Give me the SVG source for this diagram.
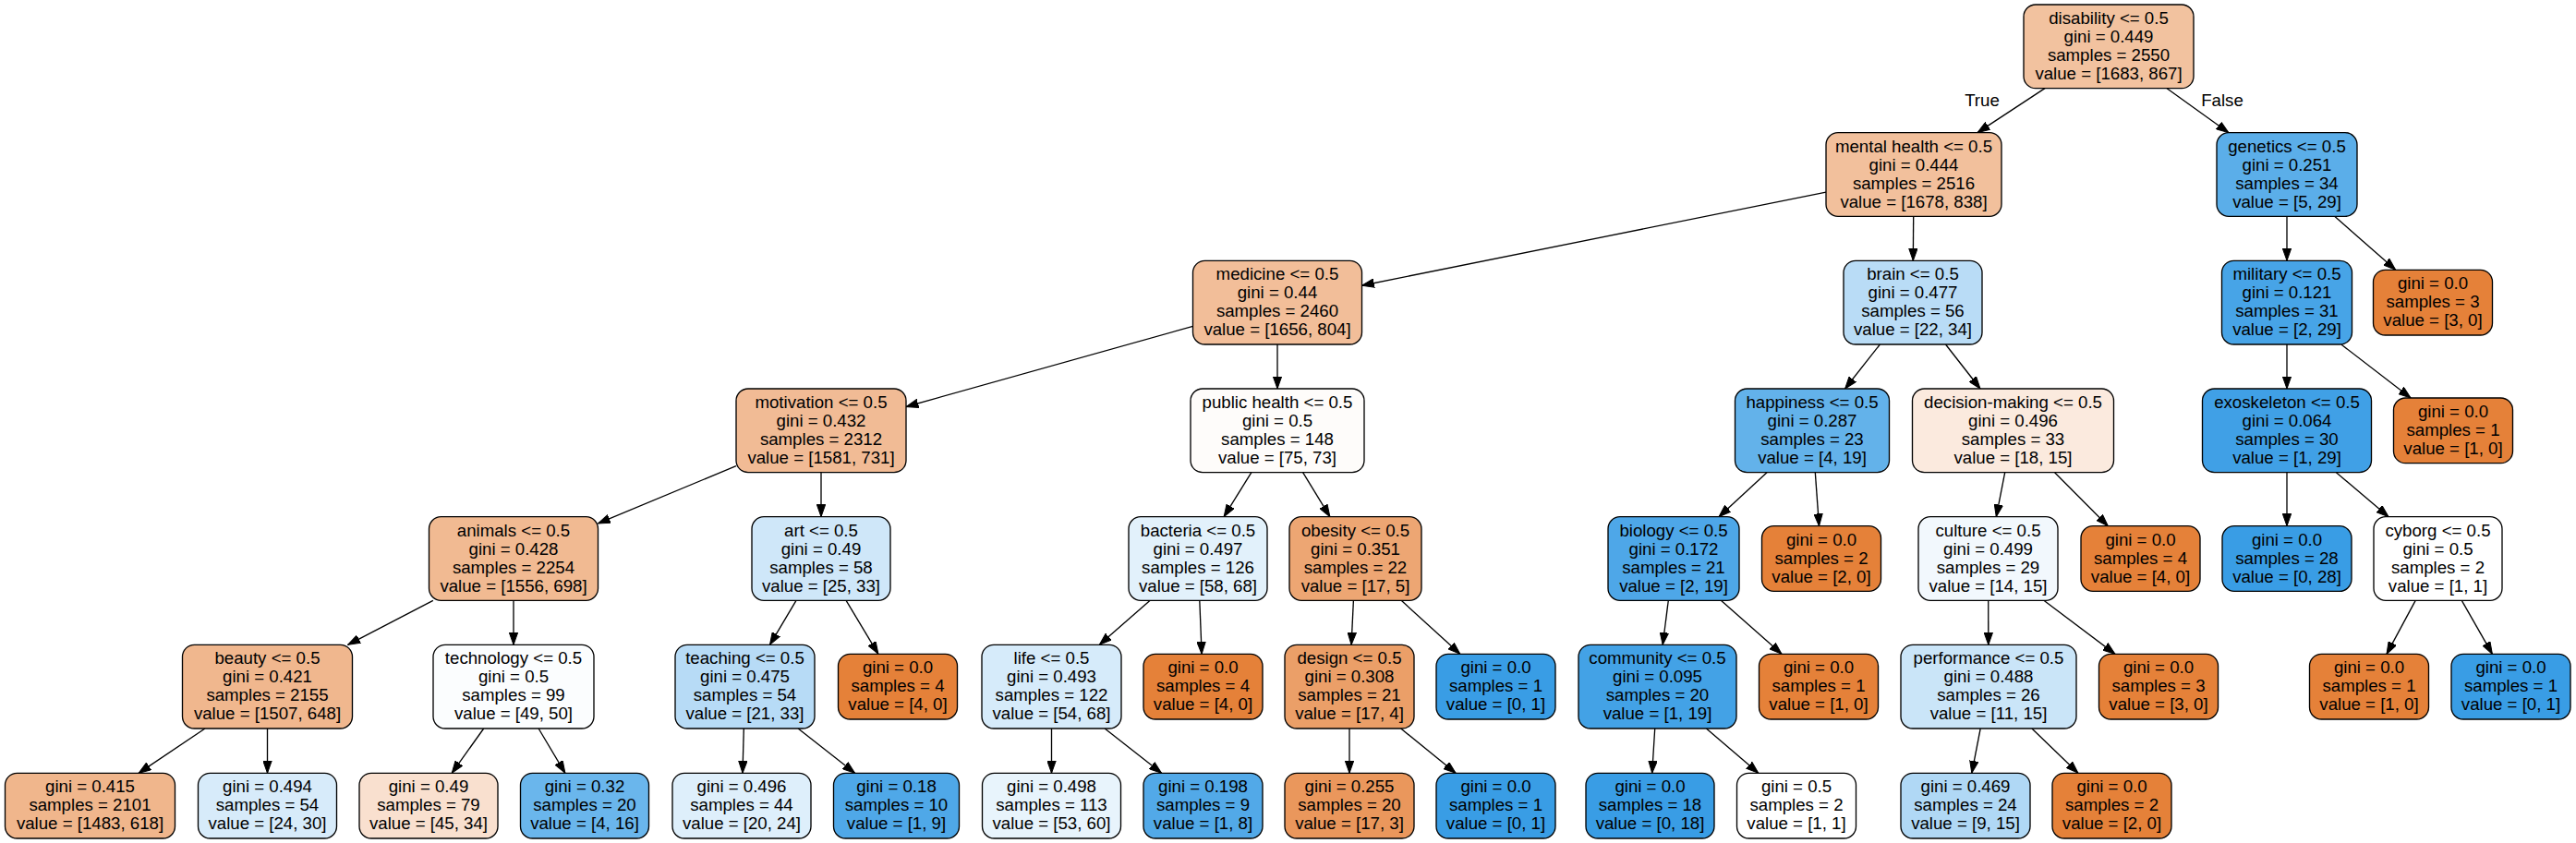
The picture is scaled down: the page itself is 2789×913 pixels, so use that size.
<svg xmlns="http://www.w3.org/2000/svg" width="2789" height="913" viewBox="0 0 2789 913">
<style>
.node rect{stroke:#000;stroke-width:1.33}
text{font-family:"Liberation Sans",Arial,Helvetica,sans-serif;font-size:18.67px;text-anchor:middle;fill:#000}
.edges line{stroke:#000;stroke-width:1.33;marker-end:url(#arr)}
.or{fill:#e58139}.bl{fill:#399de5}
</style>
<defs>
<marker id="arr" viewBox="0 -5 14 10" markerWidth="14" markerHeight="10" refX="13.3" refY="0" orient="auto" markerUnits="userSpaceOnUse">
<path d="M0,-4.7 L13.3,0 L0,4.7 Z" fill="#000" stroke="#000" stroke-width="1"/>
</marker>
</defs>
<rect width="2789" height="913" fill="#fff"/>
<g id="edges" class="edges">
<line x1="2214" y1="95.67" x2="2141" y2="143.67"/>
<line x1="2346.1" y1="95.67" x2="2412.9" y2="143.67"/>
<line x1="1977" y1="208.1" x2="1474.5" y2="309.25"/>
<line x1="2071.7" y1="234.33" x2="2071.3" y2="282.33"/>
<line x1="2476" y1="234.33" x2="2476" y2="282.33"/>
<line x1="2527.65" y1="234.33" x2="2593.7" y2="292.33"/>
<line x1="1291.5" y1="353.36" x2="981" y2="440.5"/>
<line x1="1383" y1="373" x2="1383" y2="421"/>
<line x1="2035.4" y1="373" x2="1997.6" y2="421"/>
<line x1="2106.5" y1="373" x2="2144" y2="421"/>
<line x1="2476" y1="373" x2="2476" y2="421"/>
<line x1="2534.8" y1="373" x2="2610.1" y2="431"/>
<line x1="797" y1="504.64" x2="647.5" y2="566.9"/>
<line x1="889" y1="511.67" x2="889" y2="559.67"/>
<line x1="1354.9" y1="511.67" x2="1325.1" y2="559.67"/>
<line x1="1410.6" y1="511.67" x2="1439.9" y2="559.67"/>
<line x1="1913" y1="511.67" x2="1861" y2="559.67"/>
<line x1="1965.3" y1="511.67" x2="1969.5" y2="569.67"/>
<line x1="2170.7" y1="511.67" x2="2161.3" y2="559.67"/>
<line x1="2224.6" y1="511.67" x2="2282.3" y2="569.67"/>
<line x1="2476" y1="511.67" x2="2476" y2="569.67"/>
<line x1="2529.4" y1="511.67" x2="2586.1" y2="559.67"/>
<line x1="468.9" y1="650.33" x2="376.6" y2="698.33"/>
<line x1="556" y1="650.33" x2="556" y2="698.33"/>
<line x1="862" y1="650.33" x2="833.5" y2="698.33"/>
<line x1="916.1" y1="650.33" x2="950.9" y2="708.33"/>
<line x1="1245.2" y1="650.33" x2="1190.3" y2="698.33"/>
<line x1="1298.8" y1="650.33" x2="1301.1" y2="708.33"/>
<line x1="1465.4" y1="650.33" x2="1463.1" y2="698.33"/>
<line x1="1517.2" y1="650.33" x2="1580.8" y2="708.33"/>
<line x1="1806.3" y1="650.33" x2="1800.2" y2="698.33"/>
<line x1="1863.3" y1="650.33" x2="1929" y2="708.33"/>
<line x1="2152.7" y1="650.33" x2="2152.8" y2="698.33"/>
<line x1="2212.8" y1="650.33" x2="2290" y2="708.33"/>
<line x1="2615.2" y1="650.33" x2="2584" y2="708.33"/>
<line x1="2665.3" y1="650.33" x2="2698.4" y2="708.33"/>
<line x1="222" y1="789" x2="150.1" y2="837.33"/>
<line x1="289.5" y1="789" x2="289.5" y2="837.33"/>
<line x1="523.7" y1="789" x2="489.2" y2="837.33"/>
<line x1="583.1" y1="789" x2="611.9" y2="837.33"/>
<line x1="805.3" y1="789" x2="804" y2="837.33"/>
<line x1="864.1" y1="789" x2="925.6" y2="837.33"/>
<line x1="1138.5" y1="789" x2="1138.5" y2="837.33"/>
<line x1="1196.1" y1="789" x2="1257.6" y2="837.33"/>
<line x1="1461" y1="789" x2="1461" y2="837.33"/>
<line x1="1516.7" y1="789" x2="1576.1" y2="837.33"/>
<line x1="1791.7" y1="789" x2="1788.7" y2="837.33"/>
<line x1="1847.4" y1="789" x2="1903.8" y2="837.33"/>
<line x1="2144.2" y1="789" x2="2134.8" y2="837.33"/>
<line x1="2199.9" y1="789" x2="2249.9" y2="837.33"/>
<text x="2146" y="115">True</text>
<text x="2406" y="115">False</text>
</g>
<g id="n0" class="node"><rect x="2191" y="5" width="184" height="90.67" rx="13" fill="#f2c29f"/><text><tspan x="2283" y="26">disability &lt;= 0.5</tspan><tspan x="2283" y="46">gini = 0.449</tspan><tspan x="2283" y="66">samples = 2550</tspan><tspan x="2283" y="86">value = [1683, 867]</tspan></text></g>
<g id="n1" class="node"><rect x="1977" y="143.67" width="190" height="90.67" rx="13" fill="#f2c09c"/><text><tspan x="2072" y="164.67">mental health &lt;= 0.5</tspan><tspan x="2072" y="184.67">gini = 0.444</tspan><tspan x="2072" y="204.67">samples = 2516</tspan><tspan x="2072" y="224.67">value = [1678, 838]</tspan></text></g>
<g id="n2" class="node"><rect x="2400" y="143.67" width="152" height="90.67" rx="13" fill="#5baee9"/><text><tspan x="2476" y="164.67">genetics &lt;= 0.5</tspan><tspan x="2476" y="184.67">gini = 0.251</tspan><tspan x="2476" y="204.67">samples = 34</tspan><tspan x="2476" y="224.67">value = [5, 29]</tspan></text></g>
<g id="n3" class="node"><rect x="1291.5" y="282.33" width="183" height="90.67" rx="13" fill="#f2be99"/><text><tspan x="1383" y="303.33">medicine &lt;= 0.5</tspan><tspan x="1383" y="323.33">gini = 0.44</tspan><tspan x="1383" y="343.33">samples = 2460</tspan><tspan x="1383" y="363.33">value = [1656, 804]</tspan></text></g>
<g id="n4" class="node"><rect x="1996" y="282.33" width="150" height="90.67" rx="13" fill="#b9dcf6"/><text><tspan x="2071" y="303.33">brain &lt;= 0.5</tspan><tspan x="2071" y="323.33">gini = 0.477</tspan><tspan x="2071" y="343.33">samples = 56</tspan><tspan x="2071" y="363.33">value = [22, 34]</tspan></text></g>
<g id="n5" class="node"><rect x="2405.5" y="282.33" width="141" height="90.67" rx="13" fill="#47a4e7"/><text><tspan x="2476" y="303.33">military &lt;= 0.5</tspan><tspan x="2476" y="323.33">gini = 0.121</tspan><tspan x="2476" y="343.33">samples = 31</tspan><tspan x="2476" y="363.33">value = [2, 29]</tspan></text></g>
<g id="n6" class="node"><rect x="2569.5" y="292.33" width="129" height="70.67" rx="13" class="or"/><text><tspan x="2634" y="313.33">gini = 0.0</tspan><tspan x="2634" y="333.33">samples = 3</tspan><tspan x="2634" y="353.33">value = [3, 0]</tspan></text></g>
<g id="n7" class="node"><rect x="797" y="421" width="184" height="90.67" rx="13" fill="#f1bb95"/><text><tspan x="889" y="442">motivation &lt;= 0.5</tspan><tspan x="889" y="462">gini = 0.432</tspan><tspan x="889" y="482">samples = 2312</tspan><tspan x="889" y="502">value = [1581, 731]</tspan></text></g>
<g id="n8" class="node"><rect x="1289" y="421" width="188" height="90.67" rx="13" fill="#fefcfa"/><text><tspan x="1383" y="442">public health &lt;= 0.5</tspan><tspan x="1383" y="462">gini = 0.5</tspan><tspan x="1383" y="482">samples = 148</tspan><tspan x="1383" y="502">value = [75, 73]</tspan></text></g>
<g id="n9" class="node"><rect x="1878.5" y="421" width="167" height="90.67" rx="13" fill="#63b2ea"/><text><tspan x="1962" y="442">happiness &lt;= 0.5</tspan><tspan x="1962" y="462">gini = 0.287</tspan><tspan x="1962" y="482">samples = 23</tspan><tspan x="1962" y="502">value = [4, 19]</tspan></text></g>
<g id="n10" class="node"><rect x="2070.5" y="421" width="218" height="90.67" rx="13" fill="#fbeade"/><text><tspan x="2179.5" y="442">decision-making &lt;= 0.5</tspan><tspan x="2179.5" y="462">gini = 0.496</tspan><tspan x="2179.5" y="482">samples = 33</tspan><tspan x="2179.5" y="502">value = [18, 15]</tspan></text></g>
<g id="n11" class="node"><rect x="2384.5" y="421" width="183" height="90.67" rx="13" fill="#40a0e6"/><text><tspan x="2476" y="442">exoskeleton &lt;= 0.5</tspan><tspan x="2476" y="462">gini = 0.064</tspan><tspan x="2476" y="482">samples = 30</tspan><tspan x="2476" y="502">value = [1, 29]</tspan></text></g>
<g id="n12" class="node"><rect x="2591.5" y="431" width="129" height="70.67" rx="13" class="or"/><text><tspan x="2656" y="452">gini = 0.0</tspan><tspan x="2656" y="472">samples = 1</tspan><tspan x="2656" y="492">value = [1, 0]</tspan></text></g>
<g id="n13" class="node"><rect x="464.5" y="559.67" width="183" height="90.67" rx="13" fill="#f1ba92"/><text><tspan x="556" y="580.67">animals &lt;= 0.5</tspan><tspan x="556" y="600.67">gini = 0.428</tspan><tspan x="556" y="620.67">samples = 2254</tspan><tspan x="556" y="640.67">value = [1556, 698]</tspan></text></g>
<g id="n14" class="node"><rect x="814" y="559.67" width="150" height="90.67" rx="13" fill="#cfe7f9"/><text><tspan x="889" y="580.67">art &lt;= 0.5</tspan><tspan x="889" y="600.67">gini = 0.49</tspan><tspan x="889" y="620.67">samples = 58</tspan><tspan x="889" y="640.67">value = [25, 33]</tspan></text></g>
<g id="n15" class="node"><rect x="1222" y="559.67" width="150" height="90.67" rx="13" fill="#e2f1fb"/><text><tspan x="1297" y="580.67">bacteria &lt;= 0.5</tspan><tspan x="1297" y="600.67">gini = 0.497</tspan><tspan x="1297" y="620.67">samples = 126</tspan><tspan x="1297" y="640.67">value = [58, 68]</tspan></text></g>
<g id="n16" class="node"><rect x="1396" y="559.67" width="143" height="90.67" rx="13" fill="#eda673"/><text><tspan x="1467.5" y="580.67">obesity &lt;= 0.5</tspan><tspan x="1467.5" y="600.67">gini = 0.351</tspan><tspan x="1467.5" y="620.67">samples = 22</tspan><tspan x="1467.5" y="640.67">value = [17, 5]</tspan></text></g>
<g id="n17" class="node"><rect x="1741" y="559.67" width="142" height="90.67" rx="13" fill="#4ea7e8"/><text><tspan x="1812" y="580.67">biology &lt;= 0.5</tspan><tspan x="1812" y="600.67">gini = 0.172</tspan><tspan x="1812" y="620.67">samples = 21</tspan><tspan x="1812" y="640.67">value = [2, 19]</tspan></text></g>
<g id="n18" class="node"><rect x="1907.5" y="569.67" width="129" height="70.67" rx="13" class="or"/><text><tspan x="1972" y="590.67">gini = 0.0</tspan><tspan x="1972" y="610.67">samples = 2</tspan><tspan x="1972" y="630.67">value = [2, 0]</tspan></text></g>
<g id="n19" class="node"><rect x="2077" y="559.67" width="151" height="90.67" rx="13" fill="#f2f8fd"/><text><tspan x="2152.5" y="580.67">culture &lt;= 0.5</tspan><tspan x="2152.5" y="600.67">gini = 0.499</tspan><tspan x="2152.5" y="620.67">samples = 29</tspan><tspan x="2152.5" y="640.67">value = [14, 15]</tspan></text></g>
<g id="n20" class="node"><rect x="2253" y="569.67" width="129" height="70.67" rx="13" class="or"/><text><tspan x="2317.5" y="590.67">gini = 0.0</tspan><tspan x="2317.5" y="610.67">samples = 4</tspan><tspan x="2317.5" y="630.67">value = [4, 0]</tspan></text></g>
<g id="n21" class="node"><rect x="2406" y="569.67" width="140" height="70.67" rx="13" class="bl"/><text><tspan x="2476" y="590.67">gini = 0.0</tspan><tspan x="2476" y="610.67">samples = 28</tspan><tspan x="2476" y="630.67">value = [0, 28]</tspan></text></g>
<g id="n22" class="node"><rect x="2570" y="559.67" width="139" height="90.67" rx="13" fill="#ffffff"/><text><tspan x="2639.5" y="580.67">cyborg &lt;= 0.5</tspan><tspan x="2639.5" y="600.67">gini = 0.5</tspan><tspan x="2639.5" y="620.67">samples = 2</tspan><tspan x="2639.5" y="640.67">value = [1, 1]</tspan></text></g>
<g id="n23" class="node"><rect x="197.5" y="698.33" width="184" height="90.67" rx="13" fill="#f0b78e"/><text><tspan x="289.5" y="719.33">beauty &lt;= 0.5</tspan><tspan x="289.5" y="739.33">gini = 0.421</tspan><tspan x="289.5" y="759.33">samples = 2155</tspan><tspan x="289.5" y="779.33">value = [1507, 648]</tspan></text></g>
<g id="n24" class="node"><rect x="469" y="698.33" width="174" height="90.67" rx="13" fill="#fbfdfe"/><text><tspan x="556" y="719.33">technology &lt;= 0.5</tspan><tspan x="556" y="739.33">gini = 0.5</tspan><tspan x="556" y="759.33">samples = 99</tspan><tspan x="556" y="779.33">value = [49, 50]</tspan></text></g>
<g id="n25" class="node"><rect x="731" y="698.33" width="151" height="90.67" rx="13" fill="#b7dbf6"/><text><tspan x="806.5" y="719.33">teaching &lt;= 0.5</tspan><tspan x="806.5" y="739.33">gini = 0.475</tspan><tspan x="806.5" y="759.33">samples = 54</tspan><tspan x="806.5" y="779.33">value = [21, 33]</tspan></text></g>
<g id="n26" class="node"><rect x="907.5" y="708.33" width="129" height="70.67" rx="13" class="or"/><text><tspan x="972" y="729.33">gini = 0.0</tspan><tspan x="972" y="749.33">samples = 4</tspan><tspan x="972" y="769.33">value = [4, 0]</tspan></text></g>
<g id="n27" class="node"><rect x="1063" y="698.33" width="151" height="90.67" rx="13" fill="#d6ebfa"/><text><tspan x="1138.5" y="719.33">life &lt;= 0.5</tspan><tspan x="1138.5" y="739.33">gini = 0.493</tspan><tspan x="1138.5" y="759.33">samples = 122</tspan><tspan x="1138.5" y="779.33">value = [54, 68]</tspan></text></g>
<g id="n28" class="node"><rect x="1238" y="708.33" width="129" height="70.67" rx="13" class="or"/><text><tspan x="1302.5" y="729.33">gini = 0.0</tspan><tspan x="1302.5" y="749.33">samples = 4</tspan><tspan x="1302.5" y="769.33">value = [4, 0]</tspan></text></g>
<g id="n29" class="node"><rect x="1391" y="698.33" width="140" height="90.67" rx="13" fill="#eb9f68"/><text><tspan x="1461" y="719.33">design &lt;= 0.5</tspan><tspan x="1461" y="739.33">gini = 0.308</tspan><tspan x="1461" y="759.33">samples = 21</tspan><tspan x="1461" y="779.33">value = [17, 4]</tspan></text></g>
<g id="n30" class="node"><rect x="1555" y="708.33" width="129" height="70.67" rx="13" class="bl"/><text><tspan x="1619.5" y="729.33">gini = 0.0</tspan><tspan x="1619.5" y="749.33">samples = 1</tspan><tspan x="1619.5" y="769.33">value = [0, 1]</tspan></text></g>
<g id="n31" class="node"><rect x="1709" y="698.33" width="171" height="90.67" rx="13" fill="#43a2e6"/><text><tspan x="1794.5" y="719.33">community &lt;= 0.5</tspan><tspan x="1794.5" y="739.33">gini = 0.095</tspan><tspan x="1794.5" y="759.33">samples = 20</tspan><tspan x="1794.5" y="779.33">value = [1, 19]</tspan></text></g>
<g id="n32" class="node"><rect x="1904.5" y="708.33" width="129" height="70.67" rx="13" class="or"/><text><tspan x="1969" y="729.33">gini = 0.0</tspan><tspan x="1969" y="749.33">samples = 1</tspan><tspan x="1969" y="769.33">value = [1, 0]</tspan></text></g>
<g id="n33" class="node"><rect x="2058" y="698.33" width="190" height="90.67" rx="13" fill="#cae5f8"/><text><tspan x="2153" y="719.33">performance &lt;= 0.5</tspan><tspan x="2153" y="739.33">gini = 0.488</tspan><tspan x="2153" y="759.33">samples = 26</tspan><tspan x="2153" y="779.33">value = [11, 15]</tspan></text></g>
<g id="n34" class="node"><rect x="2272.5" y="708.33" width="129" height="70.67" rx="13" class="or"/><text><tspan x="2337" y="729.33">gini = 0.0</tspan><tspan x="2337" y="749.33">samples = 3</tspan><tspan x="2337" y="769.33">value = [3, 0]</tspan></text></g>
<g id="n35" class="node"><rect x="2500.5" y="708.33" width="129" height="70.67" rx="13" class="or"/><text><tspan x="2565" y="729.33">gini = 0.0</tspan><tspan x="2565" y="749.33">samples = 1</tspan><tspan x="2565" y="769.33">value = [1, 0]</tspan></text></g>
<g id="n36" class="node"><rect x="2654" y="708.33" width="129" height="70.67" rx="13" class="bl"/><text><tspan x="2718.5" y="729.33">gini = 0.0</tspan><tspan x="2718.5" y="749.33">samples = 1</tspan><tspan x="2718.5" y="769.33">value = [0, 1]</tspan></text></g>
<g id="n37" class="node"><rect x="5.5" y="837.33" width="184" height="70.67" rx="13" fill="#f0b68c"/><text><tspan x="97.5" y="858.33">gini = 0.415</tspan><tspan x="97.5" y="878.33">samples = 2101</tspan><tspan x="97.5" y="898.33">value = [1483, 618]</tspan></text></g>
<g id="n38" class="node"><rect x="214.5" y="837.33" width="150" height="70.67" rx="13" fill="#d7ebfa"/><text><tspan x="289.5" y="858.33">gini = 0.494</tspan><tspan x="289.5" y="878.33">samples = 54</tspan><tspan x="289.5" y="898.33">value = [24, 30]</tspan></text></g>
<g id="n39" class="node"><rect x="389" y="837.33" width="150" height="70.67" rx="13" fill="#f9e0cf"/><text><tspan x="464" y="858.33">gini = 0.49</tspan><tspan x="464" y="878.33">samples = 79</tspan><tspan x="464" y="898.33">value = [45, 34]</tspan></text></g>
<g id="n40" class="node"><rect x="563.5" y="837.33" width="139" height="70.67" rx="13" fill="#6ab6ec"/><text><tspan x="633" y="858.33">gini = 0.32</tspan><tspan x="633" y="878.33">samples = 20</tspan><tspan x="633" y="898.33">value = [4, 16]</tspan></text></g>
<g id="n41" class="node"><rect x="728" y="837.33" width="150" height="70.67" rx="13" fill="#deeffb"/><text><tspan x="803" y="858.33">gini = 0.496</tspan><tspan x="803" y="878.33">samples = 44</tspan><tspan x="803" y="898.33">value = [20, 24]</tspan></text></g>
<g id="n42" class="node"><rect x="902.5" y="837.33" width="136" height="70.67" rx="13" fill="#4fa8e8"/><text><tspan x="970.5" y="858.33">gini = 0.18</tspan><tspan x="970.5" y="878.33">samples = 10</tspan><tspan x="970.5" y="898.33">value = [1, 9]</tspan></text></g>
<g id="n43" class="node"><rect x="1063.5" y="837.33" width="150" height="70.67" rx="13" fill="#e8f4fc"/><text><tspan x="1138.5" y="858.33">gini = 0.498</tspan><tspan x="1138.5" y="878.33">samples = 113</tspan><tspan x="1138.5" y="898.33">value = [53, 60]</tspan></text></g>
<g id="n44" class="node"><rect x="1238" y="837.33" width="129" height="70.67" rx="13" fill="#52a9e8"/><text><tspan x="1302.5" y="858.33">gini = 0.198</tspan><tspan x="1302.5" y="878.33">samples = 9</tspan><tspan x="1302.5" y="898.33">value = [1, 8]</tspan></text></g>
<g id="n45" class="node"><rect x="1391" y="837.33" width="140" height="70.67" rx="13" fill="#ea975c"/><text><tspan x="1461" y="858.33">gini = 0.255</tspan><tspan x="1461" y="878.33">samples = 20</tspan><tspan x="1461" y="898.33">value = [17, 3]</tspan></text></g>
<g id="n46" class="node"><rect x="1555" y="837.33" width="129" height="70.67" rx="13" class="bl"/><text><tspan x="1619.5" y="858.33">gini = 0.0</tspan><tspan x="1619.5" y="878.33">samples = 1</tspan><tspan x="1619.5" y="898.33">value = [0, 1]</tspan></text></g>
<g id="n47" class="node"><rect x="1717" y="837.33" width="139" height="70.67" rx="13" class="bl"/><text><tspan x="1786.5" y="858.33">gini = 0.0</tspan><tspan x="1786.5" y="878.33">samples = 18</tspan><tspan x="1786.5" y="898.33">value = [0, 18]</tspan></text></g>
<g id="n48" class="node"><rect x="1880.5" y="837.33" width="129" height="70.67" rx="13" fill="#ffffff"/><text><tspan x="1945" y="858.33">gini = 0.5</tspan><tspan x="1945" y="878.33">samples = 2</tspan><tspan x="1945" y="898.33">value = [1, 1]</tspan></text></g>
<g id="n49" class="node"><rect x="2058" y="837.33" width="140" height="70.67" rx="13" fill="#b0d8f5"/><text><tspan x="2128" y="858.33">gini = 0.469</tspan><tspan x="2128" y="878.33">samples = 24</tspan><tspan x="2128" y="898.33">value = [9, 15]</tspan></text></g>
<g id="n50" class="node"><rect x="2222" y="837.33" width="129" height="70.67" rx="13" class="or"/><text><tspan x="2286.5" y="858.33">gini = 0.0</tspan><tspan x="2286.5" y="878.33">samples = 2</tspan><tspan x="2286.5" y="898.33">value = [2, 0]</tspan></text></g>
</svg>
